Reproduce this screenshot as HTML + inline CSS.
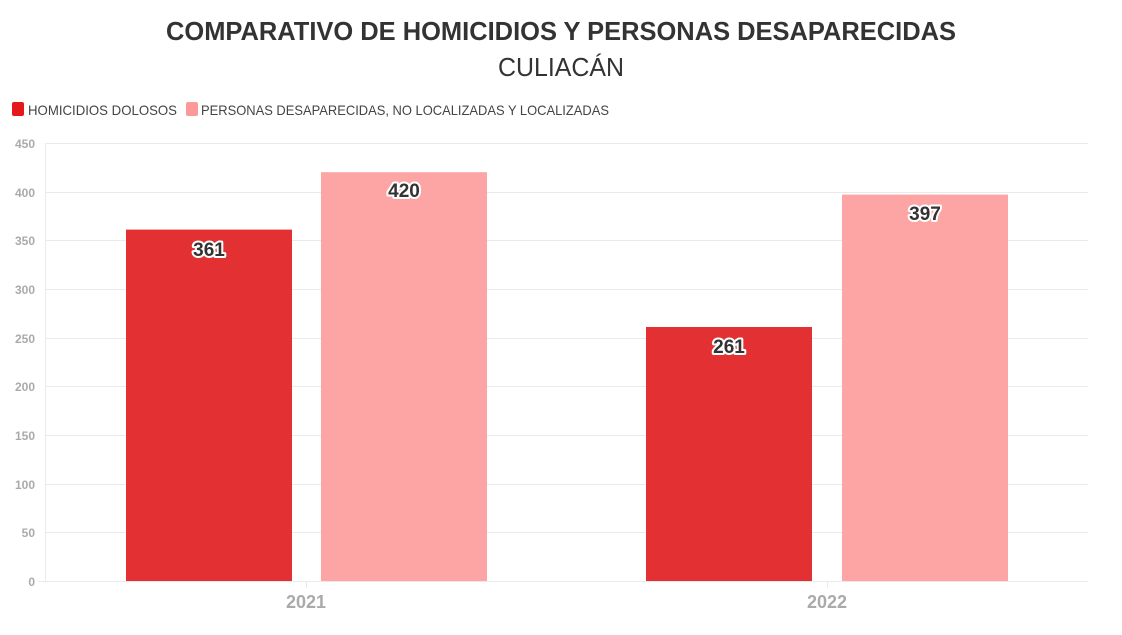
<!DOCTYPE html>
<html><head><meta charset="utf-8"><style>
body{margin:0;background:#fff;width:1122px;height:630px;overflow:hidden;font-family:"Liberation Sans",sans-serif}
</style></head><body>
<svg width="1122" height="630" xmlns="http://www.w3.org/2000/svg" font-family="Liberation Sans, sans-serif">
<text x="561" y="40" text-anchor="middle" font-size="26" font-weight="bold" fill="#333" textLength="790" lengthAdjust="spacingAndGlyphs">COMPARATIVO DE HOMICIDIOS Y PERSONAS DESAPARECIDAS</text>
<text x="561" y="76" text-anchor="middle" font-size="26" fill="#333" textLength="126" lengthAdjust="spacingAndGlyphs">CULIACÁN</text>
<rect x="12" y="102" width="12" height="14" rx="2" fill="#e3191c"/>
<text x="28" y="115" font-size="14" fill="#444" textLength="149" lengthAdjust="spacingAndGlyphs">HOMICIDIOS DOLOSOS</text>
<rect x="186" y="102" width="12" height="14" rx="2" fill="#fb9a99"/>
<text x="201" y="115" font-size="14" fill="#444" textLength="408" lengthAdjust="spacingAndGlyphs">PERSONAS DESAPARECIDAS, NO LOCALIZADAS Y LOCALIZADAS</text>
<g stroke="#eaeaea" stroke-width="1">
<line x1="45" y1="143.5" x2="1088" y2="143.5"/>
<line x1="45" y1="192.5" x2="1088" y2="192.5"/>
<line x1="45" y1="240.5" x2="1088" y2="240.5"/>
<line x1="45" y1="289.5" x2="1088" y2="289.5"/>
<line x1="45" y1="338.5" x2="1088" y2="338.5"/>
<line x1="45" y1="386.5" x2="1088" y2="386.5"/>
<line x1="45" y1="435.5" x2="1088" y2="435.5"/>
<line x1="45" y1="484.5" x2="1088" y2="484.5"/>
<line x1="45" y1="532.5" x2="1088" y2="532.5"/>
<line x1="38" y1="581.5" x2="1088" y2="581.5"/>
<line x1="45.5" y1="143" x2="45.5" y2="581"/>
<line x1="306.5" y1="581" x2="306.5" y2="588"/>
<line x1="827.5" y1="581" x2="827.5" y2="588"/>
</g>
<g font-size="12" font-weight="bold" fill="#aaa" text-anchor="end">
<text x="35" y="148">450</text><text x="35" y="197">400</text><text x="35" y="245">350</text>
<text x="35" y="294">300</text><text x="35" y="343">250</text><text x="35" y="391">200</text>
<text x="35" y="440">150</text><text x="35" y="489">100</text><text x="35" y="537">50</text><text x="35" y="586">0</text>
</g>
<rect x="126" y="229.6" width="166" height="351.4" fill="#e33133"/>
<rect x="321" y="172.2" width="166" height="408.8" fill="#fca5a4"/>
<rect x="646" y="327" width="166" height="254" fill="#e33133"/>
<rect x="842" y="194.6" width="166" height="386.4" fill="#fca5a4"/>
<g font-size="19" font-weight="bold" fill="#333" text-anchor="middle" stroke="#fff" stroke-width="4" paint-order="stroke" stroke-linejoin="round">
<text x="209" y="256">361</text><text x="404" y="197">420</text>
<text x="729" y="353">261</text><text x="925" y="220">397</text>
</g>
<g font-size="18" font-weight="bold" fill="#aaa" text-anchor="middle">
<text x="306" y="608">2021</text><text x="827" y="608">2022</text>
</g>
</svg>
</body></html>
